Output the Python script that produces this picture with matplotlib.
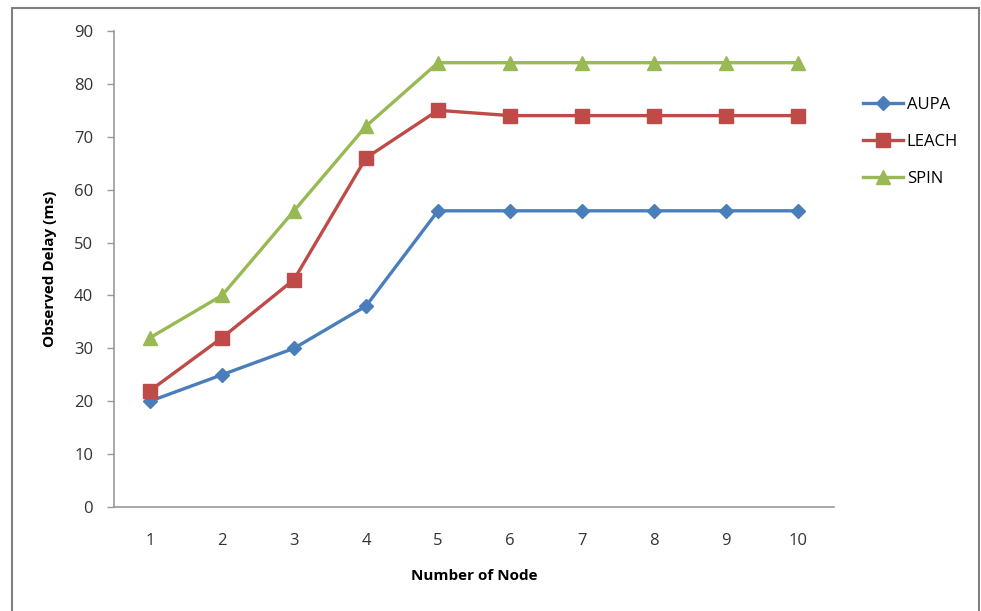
import matplotlib.pyplot as plt
from matplotlib.patches import Rectangle

# Number of nodes and observed delays (ms)
nodes = [1, 2, 3, 4, 5, 6, 7, 8, 9, 10]
aupa = [20, 25, 30, 38, 56, 56, 56, 56, 56, 56]
leach = [22, 32, 43, 66, 75, 74, 74, 74, 74, 74]
spin = [32, 40, 56, 72, 84, 84, 84, 84, 84, 84]

plt.rcParams['font.family'] = ['Open Sans', 'DejaVu Sans']

fig = plt.figure(figsize=(9.81, 6.11), dpi=100)
ax = fig.add_axes([0.1162, 0.1702, 0.7340, 0.7791])

ax.plot(nodes, aupa, color='#4A7EBB', lw=2.4, marker='D', ms=7, label='AUPA')
ax.plot(nodes, leach, color='#BE4B48', lw=2.4, marker='s', ms=9.5, label='LEACH')
ax.plot(nodes, spin, color='#98B954', lw=2.4, marker='^', ms=10, label='SPIN')

ax.set_xlim(0.5, 10.5)
ax.set_ylim(0, 90)
ax.set_xticks(nodes)
ax.set_yticks(range(0, 91, 10))
ax.tick_params(axis='x', length=0, pad=19, labelsize=12, colors='#333333')
ax.tick_params(axis='y', length=5, width=1, color='#999999', pad=10, labelsize=12, colors='#333333')

for s in ['top', 'right']:
    ax.spines[s].set_visible(False)
for s in ['left', 'bottom']:
    ax.spines[s].set_color('#999999')
    ax.spines[s].set_linewidth(1.2)

ax.set_xlabel('Number of Node', fontsize=11, fontweight='bold', labelpad=14)
ax.set_ylabel('Observed Delay (ms)', fontsize=11, fontweight='bold', labelpad=12)

ax.legend(loc='upper left', bbox_to_anchor=(1.02, 0.893), frameon=False,
          fontsize=12, handlelength=2.4, handletextpad=0.2, labelspacing=1.27)

# outer chart border
fig.patches.append(Rectangle((12 / 981, -0.01), 967 / 981, 1 - 8 / 611 + 0.01,
                             transform=fig.transFigure, fill=False,
                             edgecolor='#808080', lw=1.5))

fig.savefig('out.png', dpi=100)
